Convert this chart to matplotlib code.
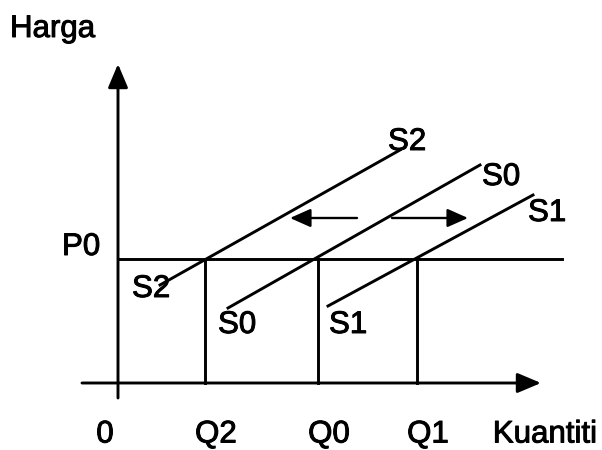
import matplotlib
matplotlib.use("Agg")
import matplotlib.pyplot as plt
import matplotlib.patheffects as pe

plt.rcParams['font.family'] = ['Liberation Sans', 'DejaVu Sans']

# economic diagram in its own units (origin = 0, 0)
p0 = 124
q_levels = [87, 200, 299]          # Q2, Q0, Q1
q_names = ["Q2", "Q0", "Q1"]

# supply curves: (q start, q end), (p start, p end)
s2_q = [42, 282]
s2_p = [98, 233]
s0_q = [110, 362]
s0_p = [75, 218]
s1_q = [210, 415]
s1_p = [77, 188]

# shift arrows (from, to) at this price level
shift_p = 165
left_shift = [239, 172]
right_shift = [274, 350]

lw = 2.1
fig = plt.figure(figsize=(6.02, 4.5), dpi=100)
ax = fig.add_axes([0, 0, 1, 1])
ax.set_xlim(-118, 484)
ax.set_ylim(-67, 383)
ax.axis('off')

head = dict(arrowstyle='-|>,head_length=0.9,head_width=0.38', color='black',
            lw=lw, mutation_scale=16, shrinkA=0, shrinkB=0)

# axes of the diagram
ax.annotate('', xy=(0, 319), xytext=(0, -15), arrowprops=head)
ax.annotate('', xy=(423, 0), xytext=(-36, 0), arrowprops=head)

# P0 line and the quantity drop lines
ax.plot([0, 444], [p0, p0], color='black', lw=lw)
for q in q_levels:
    ax.plot([q, q], [0, p0], color='black', lw=lw)

ax.plot(s2_q, s2_p, color='black', lw=lw)
ax.plot(s0_q, s0_p, color='black', lw=lw)
ax.plot(s1_q, s1_p, color='black', lw=lw)

small = dict(arrowstyle='-|>,head_length=0.9,head_width=0.4', color='black',
             lw=1.7, mutation_scale=14, shrinkA=0, shrinkB=0)
ax.annotate('', xy=(left_shift[1], shift_p), xytext=(left_shift[0], shift_p), arrowprops=small)
ax.annotate('', xy=(right_shift[1], shift_p), xytext=(right_shift[0], shift_p), arrowprops=small)

fs = 22.5
thick = [pe.withStroke(linewidth=0.7, foreground='black')]
kw = dict(fontsize=fs, va='baseline', path_effects=thick)
ax.text(-108, 346, "Harga", ha='left', **kw)
ax.text(-56, 128, "P0", ha='left', **kw)
ax.text(270, 233, "S2", ha='left', **kw)
ax.text(364, 198, "S0", ha='left', **kw)
ax.text(410, 162, "S1", ha='left', **kw)
ax.text(14, 86, "S2", ha='left', **kw)
ax.text(100, 50, "S0", ha='left', **kw)
ax.text(211, 50, "S1", ha='left', **kw)

base = -59.5
ax.text(-13, base, "0", ha='center', **kw)
for q, name in zip(q_levels, q_names):
    ax.text(q + 11, base, name, ha='center', **kw)
ax.text(427, base, "Kuantiti", ha='center', **kw)

plt.savefig("out.png", dpi=100)
